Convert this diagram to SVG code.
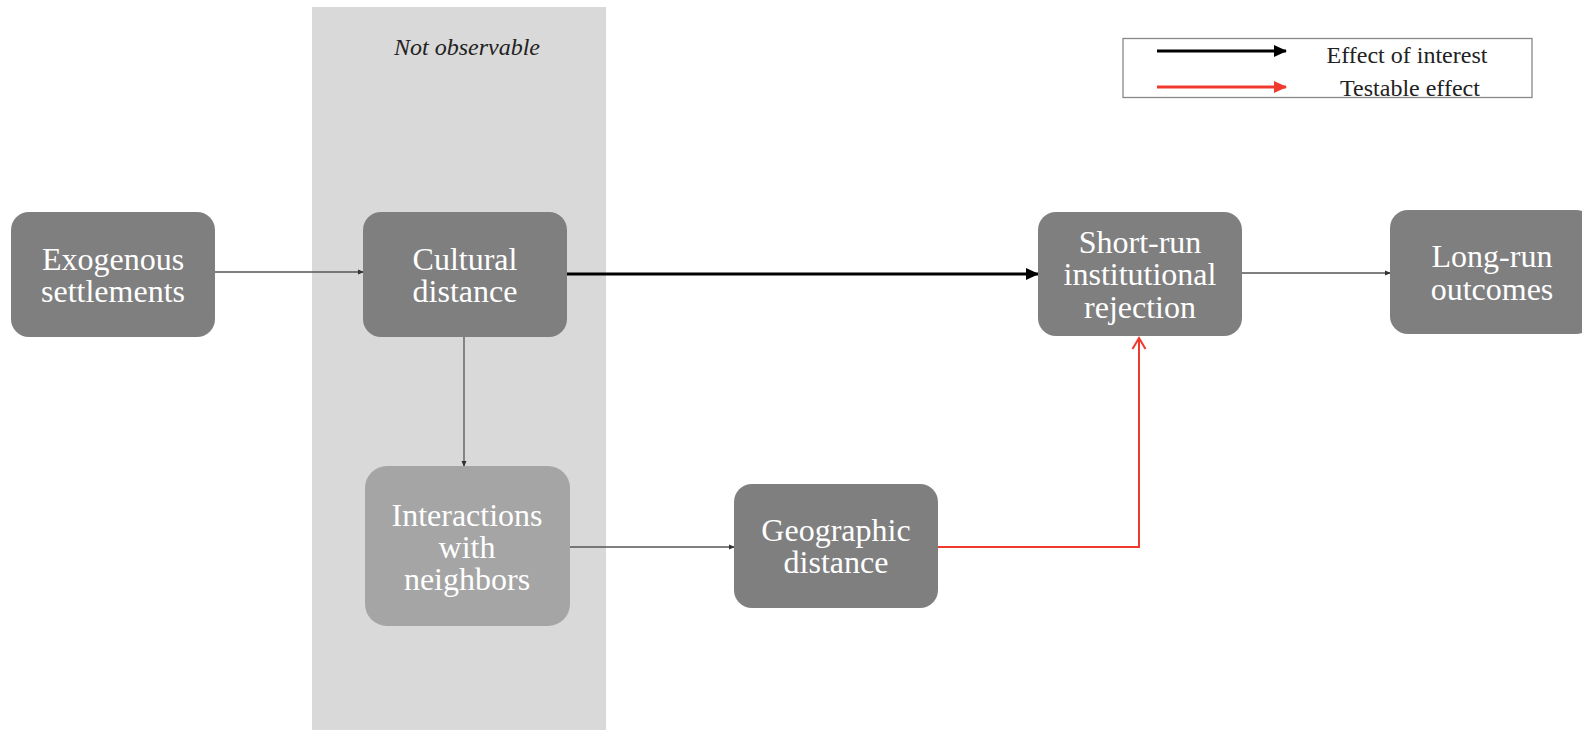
<svg xmlns="http://www.w3.org/2000/svg" width="1582" height="730" viewBox="0 0 1582 730">
<style>
.node{fill:#7f7f7f}
.light{fill:#a5a5a5}
.lbl{font-family:"Liberation Serif","Times New Roman",serif;font-size:32px;fill:#ffffff;text-anchor:middle}
.leg{font-family:"Liberation Serif","Times New Roman",serif;font-size:24px;fill:#222222;text-anchor:middle}
.thin{stroke:#555555;stroke-width:1.3;fill:none}
</style>
<defs>
<marker id="ah" markerWidth="6" markerHeight="6" refX="5" refY="3" orient="auto" markerUnits="userSpaceOnUse"><path d="M0,0.5 L6,3 L0,5.5 Z" fill="#333333"/></marker>
<marker id="ahb" markerWidth="14" markerHeight="14" refX="12" refY="7" orient="auto" markerUnits="userSpaceOnUse"><path d="M0,1 L13,7 L0,13 Z" fill="#000000"/></marker>
<marker id="ahr" markerWidth="14" markerHeight="14" refX="12" refY="7" orient="auto" markerUnits="userSpaceOnUse"><path d="M0,1 L13,7 L0,13 Z" fill="#f03a2e"/></marker>
<marker id="ahro" markerWidth="16" markerHeight="16" refX="13" refY="8" orient="auto" markerUnits="userSpaceOnUse"><path d="M2,1.5 L13,8 L2,14.5" fill="none" stroke="#f03a2e" stroke-width="2"/></marker>
</defs>
<rect x="0" y="0" width="1582" height="730" fill="#ffffff"/>
<g id="band">
<rect x="312" y="7" width="294" height="730" fill="#d9d9d9"/>
<text x="467" y="55" font-family="Liberation Serif, serif" font-style="italic" font-size="24" fill="#222222" text-anchor="middle">Not observable</text>
</g>
<g id="legend">
<rect x="1123" y="38.5" width="409" height="59" fill="#ffffff" stroke="#888888" stroke-width="1.3"/>
<line x1="1157" y1="51" x2="1286" y2="51" stroke="#000000" stroke-width="3" marker-end="url(#ahb)"/>
<line x1="1157" y1="87" x2="1286" y2="87" stroke="#f03a2e" stroke-width="3" marker-end="url(#ahr)"/>
<text class="leg" x="1407" y="63">Effect of interest</text>
<text class="leg" x="1410" y="96">Testable effect</text>
</g>
<g id="connectors">
<line class="thin" x1="215" y1="272" x2="363" y2="272" marker-end="url(#ah)"/>
<line x1="567" y1="274" x2="1038" y2="274" stroke="#000000" stroke-width="3" marker-end="url(#ahb)"/>
<line class="thin" x1="1242" y1="273" x2="1390" y2="273" marker-end="url(#ah)"/>
<line class="thin" x1="464" y1="337" x2="464" y2="466" marker-end="url(#ah)"/>
<line class="thin" x1="570" y1="547" x2="734" y2="547" marker-end="url(#ah)"/>
<polyline points="938,547 1139,547 1139,338" fill="none" stroke="#f03a2e" stroke-width="2" marker-end="url(#ahro)"/>
</g>
<g id="exogenous">
<rect class="node" x="11" y="212" width="204" height="125" rx="18"/>
<text class="lbl" x="113" y="270">Exogenous</text>
<text class="lbl" x="113" y="302">settlements</text>
</g>
<g id="cultural">
<rect class="node" x="363" y="212" width="204" height="125" rx="18"/>
<text class="lbl" x="465" y="270">Cultural</text>
<text class="lbl" x="465" y="302">distance</text>
</g>
<g id="shortrun">
<rect class="node" x="1038" y="212" width="204" height="124" rx="18"/>
<text class="lbl" x="1140" y="253">Short-run</text>
<text class="lbl" x="1140" y="285">institutional</text>
<text class="lbl" x="1140" y="318">rejection</text>
</g>
<g id="longrun">
<rect class="node" x="1390" y="210" width="204" height="124" rx="18"/>
<text class="lbl" x="1492" y="267">Long-run</text>
<text class="lbl" x="1492" y="300">outcomes</text>
</g>
<g id="interactions">
<rect class="light" x="365" y="466" width="205" height="160" rx="22"/>
<text class="lbl" x="467" y="526">Interactions</text>
<text class="lbl" x="467" y="558">with</text>
<text class="lbl" x="467" y="590">neighbors</text>
</g>
<g id="geographic">
<rect class="node" x="734" y="484" width="204" height="124" rx="18"/>
<text class="lbl" x="836" y="541">Geographic</text>
<text class="lbl" x="836" y="573">distance</text>
</g>
</svg>
